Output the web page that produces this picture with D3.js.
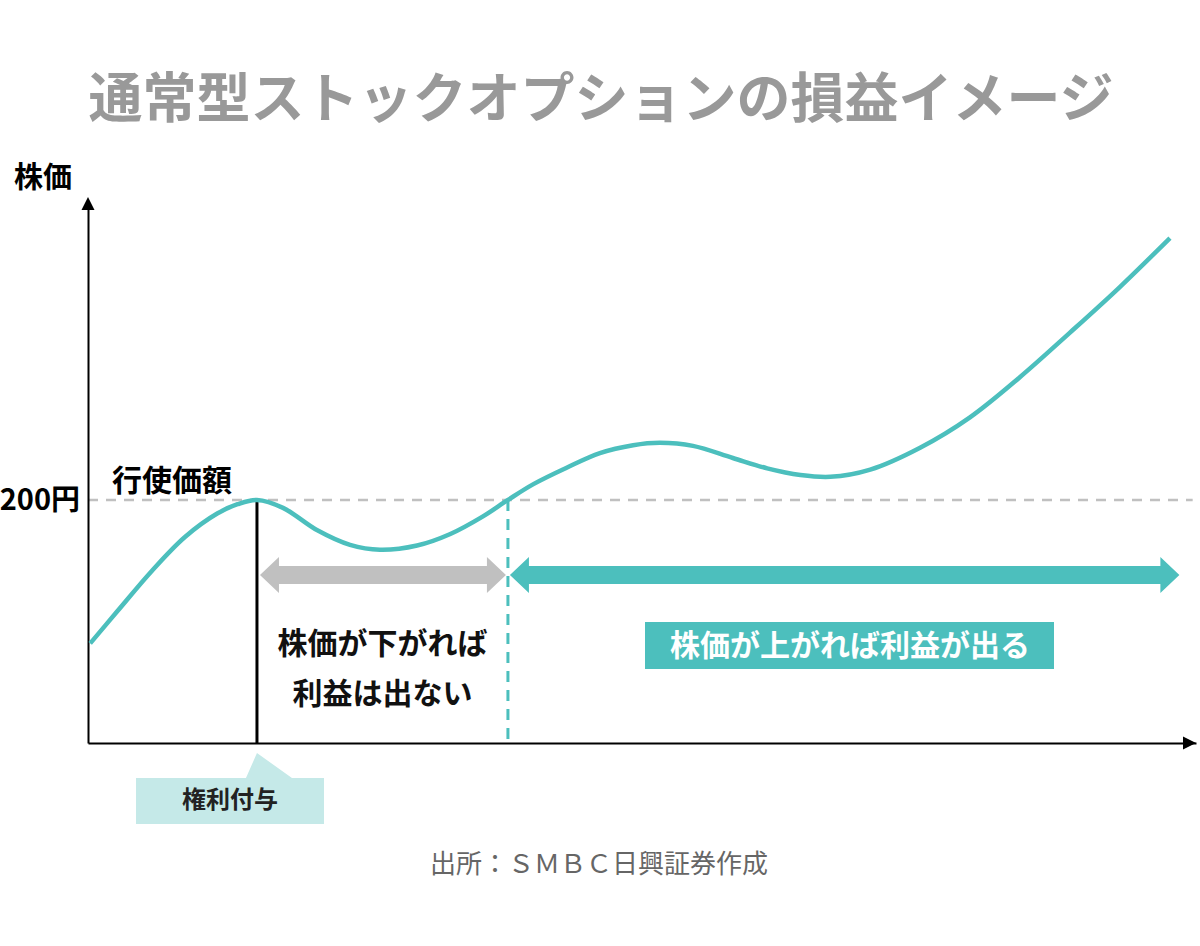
<!DOCTYPE html>
<html lang="ja">
<head>
<meta charset="utf-8">
<script src="https://cdn.jsdelivr.net/npm/d3@7"></script>
<style>
  body { margin: 0; background: #fff; }
  svg { display: block; font-family: "Noto Sans CJK JP", "Noto Sans", sans-serif; }
</style>
</head>
<body>
<svg></svg>
<script>
// data (time index 0-100, price in yen)
let times  = [0.2, 2.7, 5.8, 8.75, 11.7, 13.5, 15.25, 17.6, 20.7, 23.65, 26.35, 29.7, 32.7, 35.65,
              37.9, 40.2, 43.2, 46.2, 49.2, 51.6, 54.6, 58.2, 61.3, 64.3, 67, 70.6, 75.1, 79.6,
              84.1, 88.6, 93.1, 97.65]
let prices = [82, 109, 142, 169.5, 189, 196.5, 200, 193.5, 175, 163, 159, 162.5, 172, 186.5,
              200, 213, 226.5, 238.5, 245, 247, 244.5, 234.5, 226, 220.5, 219, 225, 243, 268,
              301, 337.5, 375, 415.5]

let strikePrice = 200      // 行使価額
let grantTime = 15.25      // 権利付与
let crossTime = 37.9       // price comes back to strike
let endTime = 98.5

let yTicks = [200]
let titleText = '通常型ストックオプションの損益イメージ'
let yLabel = '株価'
let strikeLabel = '行使価額'
let grantLabel = '権利付与'
let downLines = ['株価が下がれば', '利益は出ない']
let upLabel = '株価が上がれば利益が出る'
let sourceText = '出所：ＳＭＢＣ日興証券作成'

// canvas
let width = 1200
let height = 946
let teal = '#4cbfbd'
let gray = '#c0c0c0'

let svg = d3.select('svg').attr('width', width).attr('height', height)

let xScale = d3.scaleLinear().domain([0, 100]).range([88, 1196])
let yScale = d3.scaleLinear().domain([0, 446]).range([743, 201])

// title
svg.append('text')
  .attr('x', 601).attr('y', 118)
  .attr('text-anchor', 'middle')
  .style('font-size', '54px').style('font-weight', 700)
  .style('fill', '#999')
  .text(titleText)

// dashed strike line
svg.append('line')
  .attr('x1', xScale(0)).attr('x2', xScale(99.7))
  .attr('y1', yScale(strikePrice)).attr('y2', yScale(strikePrice))
  .style('stroke', gray).style('stroke-width', 2.5)
  .style('stroke-dasharray', '10,8')

// axes, no ticks on x
let xAxis = d3.axisBottom(xScale).tickValues([]).tickSizeOuter(0)
let yAxis = d3.axisLeft(yScale).tickValues(yTicks).tickSize(0).tickSizeOuter(0)
  .tickPadding(8).tickFormat(d => d + '円')

svg.append('g')
  .attr('transform', `translate(0,${yScale(0)})`)
  .call(xAxis)
  .call(g => g.select('.domain').style('stroke', '#000').style('stroke-width', 2))

svg.append('g')
  .attr('transform', `translate(${xScale(0)},0)`)
  .call(yAxis)
  .call(g => g.select('.domain').style('stroke', '#000').style('stroke-width', 2))
  .call(g => g.selectAll('text')
    .attr('dy', '0.32em')
    .style('font-family', '"Noto Sans CJK JP", sans-serif')
    .style('font-size', '29px').style('font-weight', 700).style('fill', '#000'))

// axis arrow heads
svg.append('path')
  .attr('d', `M${xScale(0)},${yScale(0) - 546} l-6.5,13 l13,0 z`)
  .style('fill', '#000')
svg.append('path')
  .attr('d', `M${xScale(100)},${yScale(0)} l-13,-6.5 l0,13 z`)
  .style('fill', '#000')

// y label
svg.append('text')
  .attr('x', 14).attr('y', 188)
  .style('font-size', '29px').style('font-weight', 700)
  .text(yLabel)

// grant line and crossing line
svg.append('line')
  .attr('x1', xScale(grantTime)).attr('x2', xScale(grantTime))
  .attr('y1', yScale(strikePrice)).attr('y2', yScale(0))
  .style('stroke', '#000').style('stroke-width', 3)

svg.append('line')
  .attr('x1', xScale(crossTime)).attr('x2', xScale(crossTime))
  .attr('y1', yScale(strikePrice)).attr('y2', yScale(0))
  .style('stroke', teal).style('stroke-width', 3)
  .style('stroke-dasharray', '11,8')

// price curve
let line = d3.line()
  .x((d, i) => xScale(times[i]))
  .y(d => yScale(d))
  .curve(d3.curveCatmullRom.alpha(0.5))

svg.append('path')
  .datum(prices)
  .attr('d', line)
  .style('fill', 'none')
  .style('stroke', teal)
  .style('stroke-width', 4.5)

// double arrows
let arrowY = 575
let drawArrow = (x1, x2, col) => {
  let sh = 9, hh = 18, hl = 19
  let pts = [
    [x1, arrowY], [x1 + hl, arrowY - hh], [x1 + hl, arrowY - sh],
    [x2 - hl, arrowY - sh], [x2 - hl, arrowY - hh], [x2, arrowY],
    [x2 - hl, arrowY + hh], [x2 - hl, arrowY + sh],
    [x1 + hl, arrowY + sh], [x1 + hl, arrowY + hh]
  ]
  svg.append('polygon')
    .attr('points', pts.map(p => p.join(',')).join(' '))
    .style('fill', col)
}
drawArrow(xScale(grantTime) + 3, xScale(crossTime) - 2, gray)
drawArrow(xScale(crossTime) + 2, xScale(endTime), teal)

// strike label
svg.append('text')
  .attr('x', 112).attr('y', 491)
  .style('font-size', '30px').style('font-weight', 700)
  .text(strikeLabel)

// down text
let downX = (xScale(grantTime) + xScale(crossTime)) / 2
svg.selectAll('.down')
  .data(downLines)
  .enter()
  .append('text')
  .attr('class', 'down')
  .attr('x', downX)
  .attr('y', (d, i) => 654 + i * 50)
  .attr('text-anchor', 'middle')
  .style('font-size', '30px').style('font-weight', 700)
  .style('fill', '#111')
  .text(d => d)

// up label box
svg.append('rect')
  .attr('x', 645).attr('y', 622)
  .attr('width', 409).attr('height', 47)
  .style('fill', teal)
svg.append('text')
  .attr('x', 850).attr('y', 656)
  .attr('text-anchor', 'middle')
  .style('font-size', '30px').style('font-weight', 700)
  .style('fill', '#fff')
  .text(upLabel)

// grant callout
let gx = xScale(grantTime)
svg.append('path')
  .attr('d', `M136,778 L${gx - 11},778 L${gx},753 L${gx + 35},778 L324,778 L324,824 L136,824 Z`)
  .style('fill', '#c5e9e8')
svg.append('text')
  .attr('x', 230).attr('y', 808)
  .attr('text-anchor', 'middle')
  .style('font-size', '24px').style('font-weight', 700)
  .style('fill', '#222')
  .text(grantLabel)

// source
svg.append('text')
  .attr('x', 599).attr('y', 873)
  .attr('text-anchor', 'middle')
  .style('font-size', '26px')
  .style('fill', '#666')
  .text(sourceText)
</script>
</body>
</html>
